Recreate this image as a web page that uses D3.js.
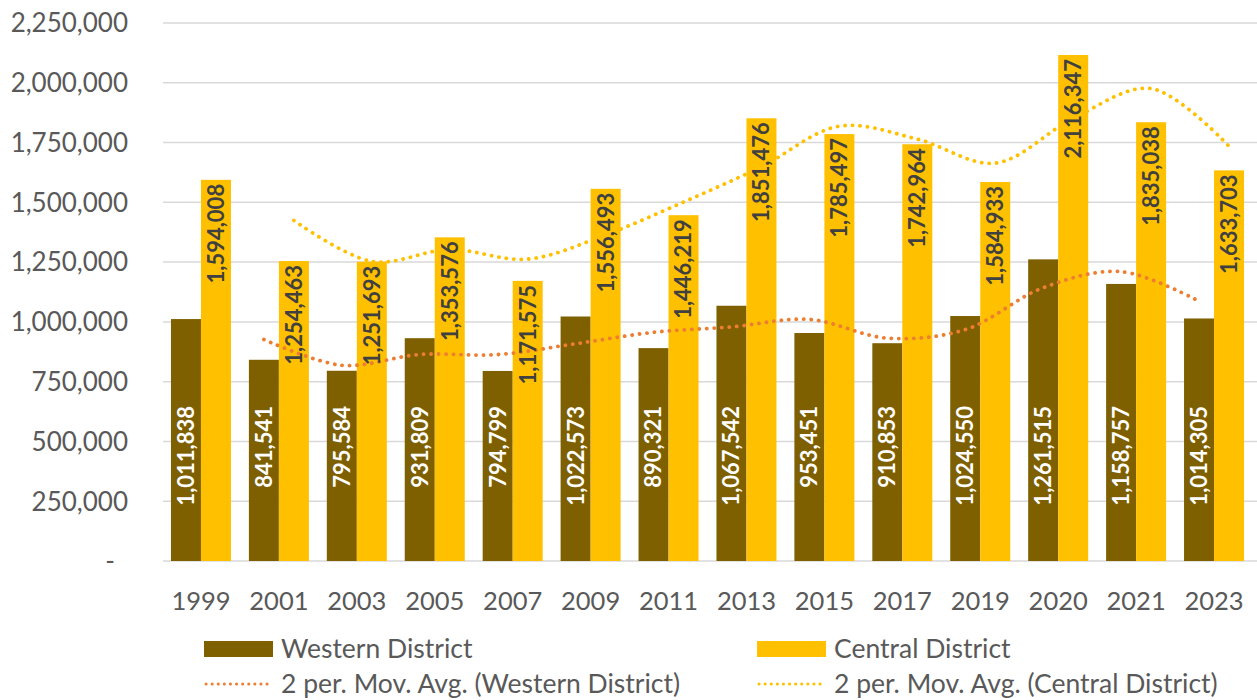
<!DOCTYPE html>
<html><head><meta charset="utf-8">
<script src="https://cdn.jsdelivr.net/npm/d3@7"></script>
<style>
html,body{margin:0;padding:0;background:#fff;}
svg{display:block;font-family:Lato,"Open Sans",sans-serif;}
</style></head>
<body><svg id="chart" width="1257" height="700"></svg>
<script>
const categories = ["1999","2001","2003","2005","2007","2009","2011","2013","2015","2017","2019","2020","2021","2023"];
const westernValues = [1011838,841541,795584,931809,794799,1022573,890321,1067542,953451,910853,1024550,1261515,1158757,1014305];
const centralValues = [1594008,1254463,1251693,1353576,1171575,1556493,1446219,1851476,1785497,1742964,1584933,2116347,1835038,1633703];
const yTicks = [0,250000,500000,750000,1000000,1250000,1500000,1750000,2000000,2250000];
const seriesNames = ["Western District","Central District"];
const maNames = ["2 per. Mov. Avg. (Western District)","2 per. Mov. Avg. (Central District)"];

const colors = {west:"#7F6000", central:"#FFC000", westMA:"#ED7D31", centralMA:"#FFC000", grid:"#D9D9D9", text:"#595959"};

const svg = d3.select("#chart");
const x = d3.scaleBand().domain(categories).range([162,1253]).paddingInner(0.23).paddingOuter(0.115);
const xs = d3.scaleBand().domain(["w","c"]).range([0, x.bandwidth()]);
const y = d3.scaleLinear().domain([0,2250000]).range([561,23]);

// gridlines
svg.append("g").selectAll("line").data(yTicks).join("line")
  .attr("x1",163).attr("x2",1257)
  .attr("y1",d=>y(d)).attr("y2",d=>y(d))
  .attr("stroke",colors.grid).attr("stroke-width",1.5);

// y axis labels
const yAxis = d3.axisLeft(y).tickValues(yTicks).tickSize(0).tickPadding(0)
  .tickFormat(d=> d===0 ? "-" : d3.format(",")(d));
const yg = svg.append("g").attr("transform","translate(128,0)").call(yAxis);
yg.select(".domain").remove();
yg.selectAll("text").attr("fill",colors.text).style("font-size","26px").style("font-family","Lato")
  .attr("dy","0.34em").attr("dx", d=> d===0 ? -13 : 0);

// x axis labels
const xAxis = d3.axisBottom(x).tickSize(0).tickPadding(0);
const xg = svg.append("g").attr("transform","translate(0,561)").call(xAxis);
xg.select(".domain").remove();
xg.selectAll("text").attr("fill",colors.text).style("font-size","25.5px").style("font-family","Lato")
  .attr("y",49).attr("dy",0);

const data = categories.map((c,i)=>({c, w:westernValues[i], ce:centralValues[i]}));

// bars
svg.append("g").selectAll("rect").data(data).join("rect")
  .attr("x",d=>x(d.c)+xs("w")).attr("width",xs.bandwidth())
  .attr("y",d=>y(d.w)).attr("height",d=>y(0)-y(d.w)).attr("fill",colors.west);
svg.append("g").selectAll("rect").data(data).join("rect")
  .attr("x",d=>x(d.c)+xs("c")).attr("width",xs.bandwidth())
  .attr("y",d=>y(d.ce)).attr("height",d=>y(0)-y(d.ce)).attr("fill",colors.central);

// moving averages (2 period trendlines)
const ma = vals => vals.map((v,i)=> i===0 ? null : (v+vals[i-1])/2);
const westMA = ma(westernValues), centralMA = ma(centralValues);
const lineGen = key => d3.line()
  .defined(d=>d.v!==null)
  .x(d=>x(d.c)+xs(key)+xs.bandwidth()/2).y(d=>y(d.v))
  .curve(d3.curveCatmullRom.alpha(0.5));
svg.append("path").datum(categories.map((c,i)=>({c,v:westMA[i]})))
  .attr("d",lineGen("w")).attr("fill","none").attr("stroke",colors.westMA)
  .attr("stroke-width",3.8).attr("stroke-linecap","round").attr("stroke-dasharray","0.1 7.4");
svg.append("path").datum(categories.map((c,i)=>({c,v:centralMA[i]})))
  .attr("d",lineGen("c")).attr("fill","none").attr("stroke",colors.centralMA)
  .attr("stroke-width",3.8).attr("stroke-linecap","round").attr("stroke-dasharray","0.1 7.4");

// labels
const fmt = d3.format(",");
svg.append("g").selectAll("text").data(data).join("text")
  .attr("transform",d=>`translate(${x(d.c)+xs("w")+xs.bandwidth()/2},406) rotate(-90)`)
  .attr("text-anchor","end").attr("dy","0.36em")
  .attr("fill","#FFFFFF").style("font-weight","bold").style("font-size","22px")
  .text(d=>fmt(d.w));
svg.append("g").selectAll("text").data(data).join("text")
  .attr("transform",d=>`translate(${x(d.c)+xs("c")+xs.bandwidth()/2},${y(d.ce)+4}) rotate(-90)`)
  .attr("text-anchor","end").attr("dy","0.36em")
  .attr("fill","#404040").style("font-weight","bold").style("font-size","22px")
  .text(d=>fmt(d.ce));

// legend
const leg = svg.append("g");
const legX = [204, 757];
const legColors = [colors.west, colors.central];
const maColors = [colors.westMA, colors.centralMA];
seriesNames.forEach((n,i)=>{
  leg.append("rect").attr("x",legX[i]).attr("y",641).attr("width",69).attr("height",16).attr("fill",legColors[i]);
  leg.append("text").attr("x",legX[i]+77).attr("y",658).attr("fill",colors.text).style("font-size","26.5px").text(n);
});
maNames.forEach((n,i)=>{
  leg.append("line").attr("x1",legX[i]+2).attr("x2",legX[i]+68).attr("y1",684).attr("y2",684)
    .attr("stroke",maColors[i]).attr("stroke-width",3).attr("stroke-linecap","round").attr("stroke-dasharray","0.1 6");
  leg.append("text").attr("x",legX[i]+77).attr("y",693).attr("fill",colors.text).style("font-size","26.5px").text(n);
});
</script></body></html>
